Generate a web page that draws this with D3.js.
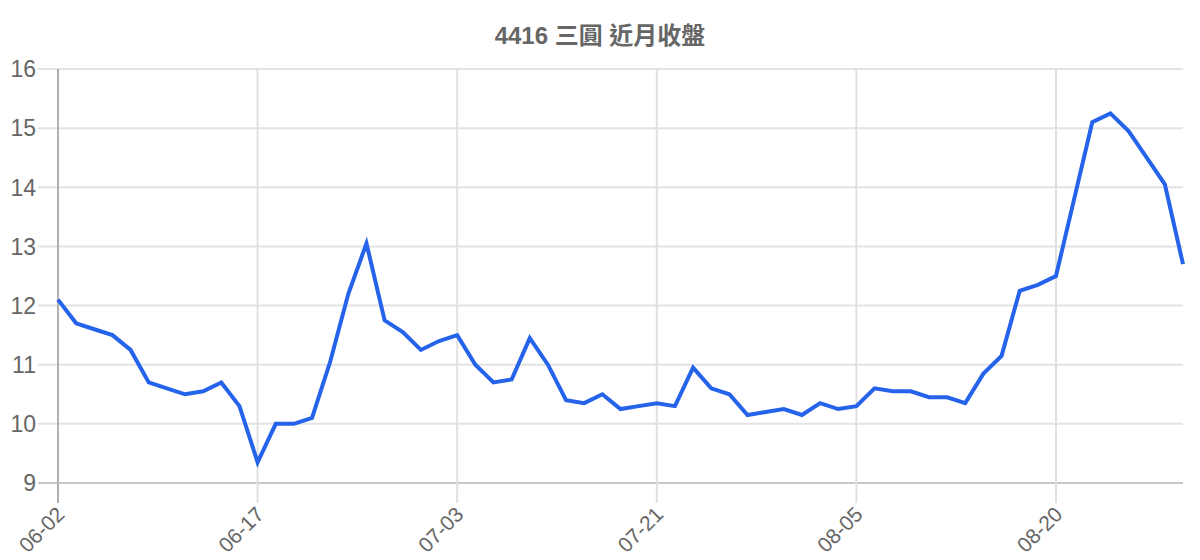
<!DOCTYPE html>
<html>
<head>
<meta charset="utf-8">
<script src="https://cdn.jsdelivr.net/npm/d3@7"></script>
<style>
  html, body { margin: 0; padding: 0; background: #fff; }
  text { font-family: "Liberation Sans", Arial, "Noto Sans CJK TC", sans-serif; fill: #666; }
</style>
</head>
<body>
<div id="chart"></div>
<script>
// trading days (MM-DD)
var dates = [
  "06-02","06-03","06-04","06-05","06-06","06-09","06-10","06-11","06-12","06-13","06-16","06-17",
  "06-18","06-19","06-23","06-24","06-25","06-26","06-27","06-30","07-01","07-02","07-03",
  "07-04","07-08","07-09","07-10","07-11","07-14","07-15","07-16","07-17","07-18","07-21",
  "07-22","07-23","07-24","07-25","07-28","07-29","07-30","07-31","08-01","08-04","08-05",
  "08-06","08-07","08-08","08-11","08-12","08-13","08-14","08-15","08-18","08-19","08-20",
  "08-21","08-22","08-25","08-26","08-27","08-28","08-29"
];
// near-month close
var closes = [
  12.1, 11.7, 11.6, 11.5, 11.25, 10.7, 10.6, 10.5, 10.55, 10.7, 10.3, 9.35,
  10.0, 10.0, 10.1, 11.05, 12.2, 13.05, 11.75, 11.55, 11.25, 11.4, 11.5,
  11.0, 10.7, 10.75, 11.45, 11.0, 10.4, 10.35, 10.5, 10.25, 10.3, 10.35,
  10.3, 10.95, 10.6, 10.5, 10.15, 10.2, 10.25, 10.15, 10.35, 10.25, 10.3,
  10.6, 10.55, 10.55, 10.45, 10.45, 10.35, 10.85, 11.15, 12.25, 12.35, 12.5,
  13.8, 15.1, 15.25, 14.95, 14.5, 14.05, 12.7
];
var xTickLabels = ["06-02","06-17","07-03","07-21","08-05","08-20"];
var yTickValues = [9, 10, 11, 12, 13, 14, 15, 16];
var title = "4416 三圓 近月收盤";

var W = 1200, H = 560;
var plotLeft = 58, plotRight = 1183, plotTop = 69, plotBottom = 483;

var svg = d3.select("#chart").append("svg")
    .attr("width", W)
    .attr("height", H);

var x = d3.scalePoint().domain(dates).range([plotLeft, plotRight]).padding(0);
var y = d3.scaleLinear().domain([9, 16]).range([plotBottom, plotTop]);

// title
svg.append("text")
    .attr("x", W / 2)
    .attr("y", 35)
    .attr("dy", "0.36em")
    .attr("text-anchor", "middle")
    .style("font-size", "24px")
    .style("font-weight", "bold")
    .text(title);

// horizontal grid + y tick marks
svg.append("g").selectAll("line")
    .data(yTickValues)
    .enter().append("line")
    .attr("x1", plotLeft - 20)
    .attr("x2", plotRight)
    .attr("y1", function(d) { return y(d); })
    .attr("y2", function(d) { return y(d); })
    .attr("stroke", function(d) { return d === 9 ? "#c8c8c8" : "#e3e3e3"; })
    .attr("stroke-width", 2);

// vertical grid at labelled dates, with tick marks below axis
svg.append("g").selectAll("line")
    .data(xTickLabels)
    .enter().append("line")
    .attr("x1", function(d) { return x(d); })
    .attr("x2", function(d) { return x(d); })
    .attr("y1", plotTop)
    .attr("y2", plotBottom + 20)
    .attr("stroke", function(d, i) { return i === 0 ? "#b0b0b0" : "#e0e0e0"; })
    .attr("stroke-width", 2);

// y labels
svg.append("g").selectAll("text")
    .data(yTickValues)
    .enter().append("text")
    .attr("x", 36)
    .attr("y", function(d) { return y(d); })
    .attr("dy", "0.36em")
    .attr("text-anchor", "end")
    .style("font-size", "23px")
    .text(function(d) { return d; });

// x labels, rotated
svg.append("g").selectAll("text")
    .data(xTickLabels)
    .enter().append("text")
    .attr("transform", function(d) { return "translate(" + (x(d) - 3) + "," + (plotBottom + 22) + ") rotate(-45)"; })
    .attr("dy", "0.72em")
    .attr("text-anchor", "end")
    .style("font-size", "21px")
    .text(function(d) { return d; });

// price line
var line = d3.line()
    .x(function(d, i) { return x(dates[i]); })
    .y(function(d) { return y(d); });

svg.append("path")
    .datum(closes)
    .attr("d", line)
    .attr("fill", "none")
    .attr("stroke", "#2563eb")
    .attr("stroke-width", 4)
    .attr("stroke-linejoin", "miter");
</script>
</body>
</html>
